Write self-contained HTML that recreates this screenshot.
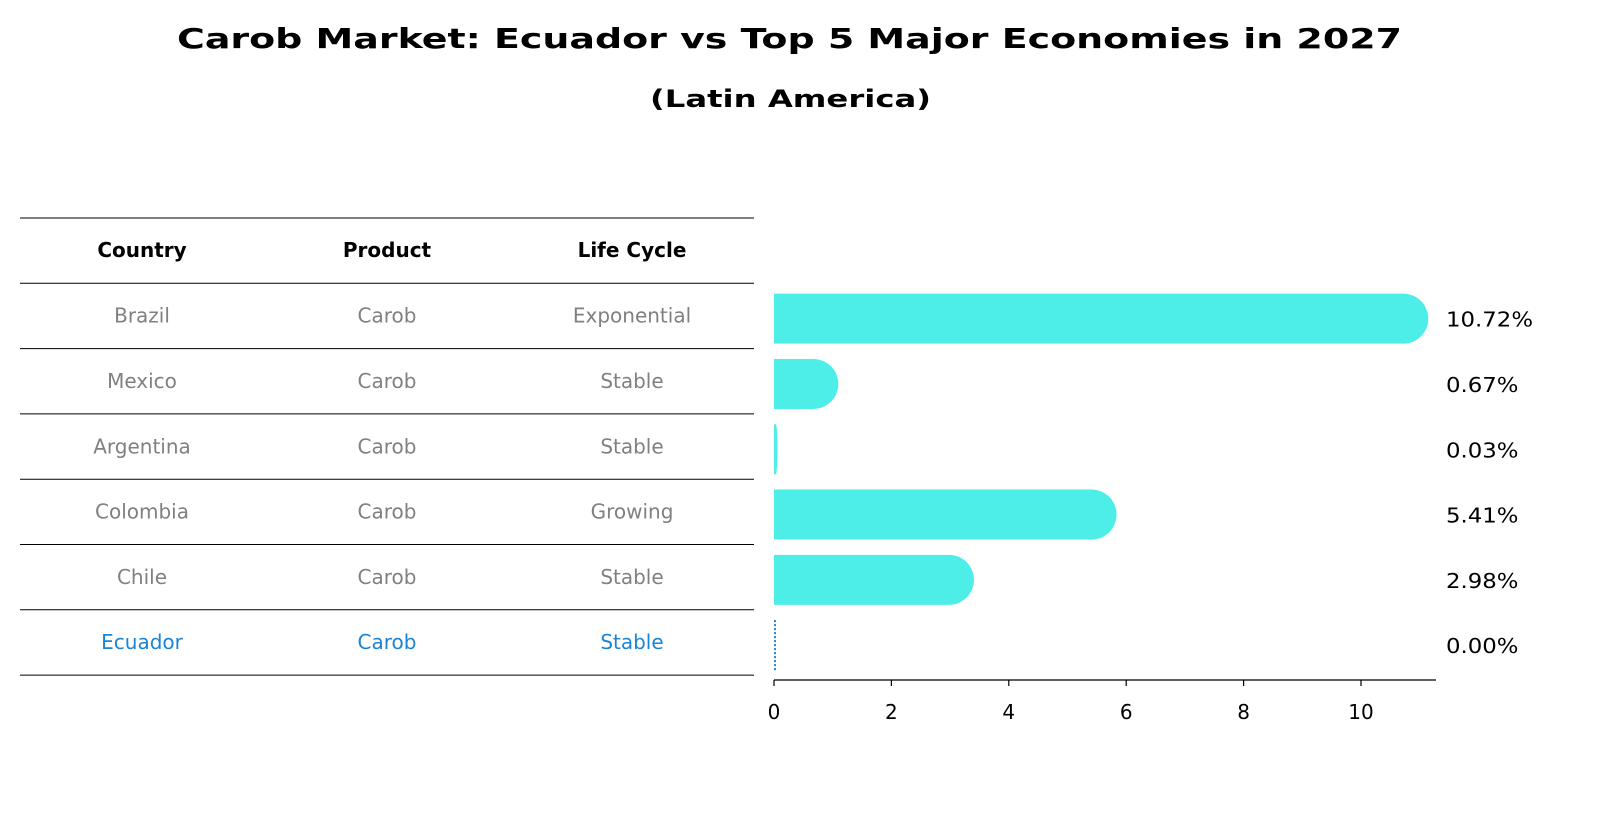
<!DOCTYPE html>
<html><head><meta charset="utf-8"><style>
body{margin:0;background:#fff;}
svg{display:block;font-family:"DejaVu Sans","Liberation Sans",sans-serif;}
</style></head><body>
<svg id="chart" width="1604" height="823" viewBox="0 0 1604 823" xmlns="http://www.w3.org/2000/svg">
<text x="177" y="48" font-size="28" font-weight="bold" fill="#000" textLength="1225" lengthAdjust="spacingAndGlyphs">Carob Market: Ecuador vs Top 5 Major Economies in 2027</text>
<text x="650" y="107" font-size="24" font-weight="bold" fill="#000" textLength="281" lengthAdjust="spacingAndGlyphs">(Latin America)</text>
<g id="table"></g>
<g id="bars"></g>
<g id="axis"></g>
</svg>
<script>
const countries=["Brazil","Mexico","Argentina","Colombia","Chile","Ecuador"];
const products=["Carob","Carob","Carob","Carob","Carob","Carob"];
const lifeCycles=["Exponential","Stable","Stable","Growing","Stable","Stable"];
const values=[10.72,0.67,0.03,5.41,2.98,0.00];
const ticks=[0,2,4,6,8,10];

const NS="http://www.w3.org/2000/svg";
function mk(tag,attrs,parent,text){const e=document.createElementNS(NS,tag);for(const k in attrs)e.setAttribute(k,attrs[k]);if(text!==undefined)e.textContent=text;parent.appendChild(e);return e;}
const x0=774,pxPer=58.7;
function xs(v){return x0+v*pxPer;}
const rowTop=283,rowH=65.3;
function yc(i){return rowTop+rowH*(i+0.5);}

const table=document.getElementById('table');
const colX=[142,387,632];
const heads=["Country","Product","Life Cycle"];
heads.forEach((h,j)=>{const t=mk('text',{x:colX[j],y:257,'text-anchor':'middle','font-size':20,'font-weight':'bold',fill:'#000'},table,h);

});
for(let i=0;i<=countries.length+1;i++){const y=218+i*rowH;const l=mk('line',{x1:20,x2:754,y1:y,y2:y,stroke:'#000','stroke-width':1},table);

}
countries.forEach((c,i)=>{const col=c==="Ecuador"?"#1a85d6":"#808080";
[c,products[i],lifeCycles[i]].forEach((txt,j)=>{const t=mk('text',{x:colX[j],y:yc(i)+7,'text-anchor':'middle','font-size':20,fill:col},table,txt);

});});

const bars=document.getElementById('bars');
const bh=50,cap=25;
values.forEach((v,i)=>{const cy=yc(i)+3;const y=cy-bh/2;const w=xs(v)-x0;
if(countries[i]==="Ecuador"){const l=mk('line',{x1:x0+1,x2:x0+1,y1:y,y2:y+bh,stroke:'#1a85d6','stroke-width':2,'stroke-dasharray':'2,2'},bars);

}
else{const r=Math.min(cap,Math.max(w,1));const ww=Math.max(w,1);
const p=mk('path',{d:`M${x0},${y} H${x0+ww} A${r},${bh/2} 0 0 1 ${x0+ww},${y+bh} H${x0} Z`,fill:'#4deee8'},bars);

}
const lbl=v.toFixed(2)+'%';
const t=mk('text',{x:1446,y:cy+8,'font-size':20,fill:'#000',textLength:lbl.length*14.5,lengthAdjust:'spacingAndGlyphs'},bars,lbl);

});

const axis=document.getElementById('axis');
const al=mk('line',{x1:x0,x2:1436,y1:680,y2:680,stroke:'#000','stroke-width':1.3},axis);


ticks.forEach(t=>{const l=mk('line',{x1:xs(t),x2:xs(t),y1:680,y2:686,stroke:'#000','stroke-width':1.2},axis);


const tx=mk('text',{x:xs(t),y:719,'text-anchor':'middle','font-size':20,fill:'#000'},axis,String(t));

});
</script>
</body></html>
